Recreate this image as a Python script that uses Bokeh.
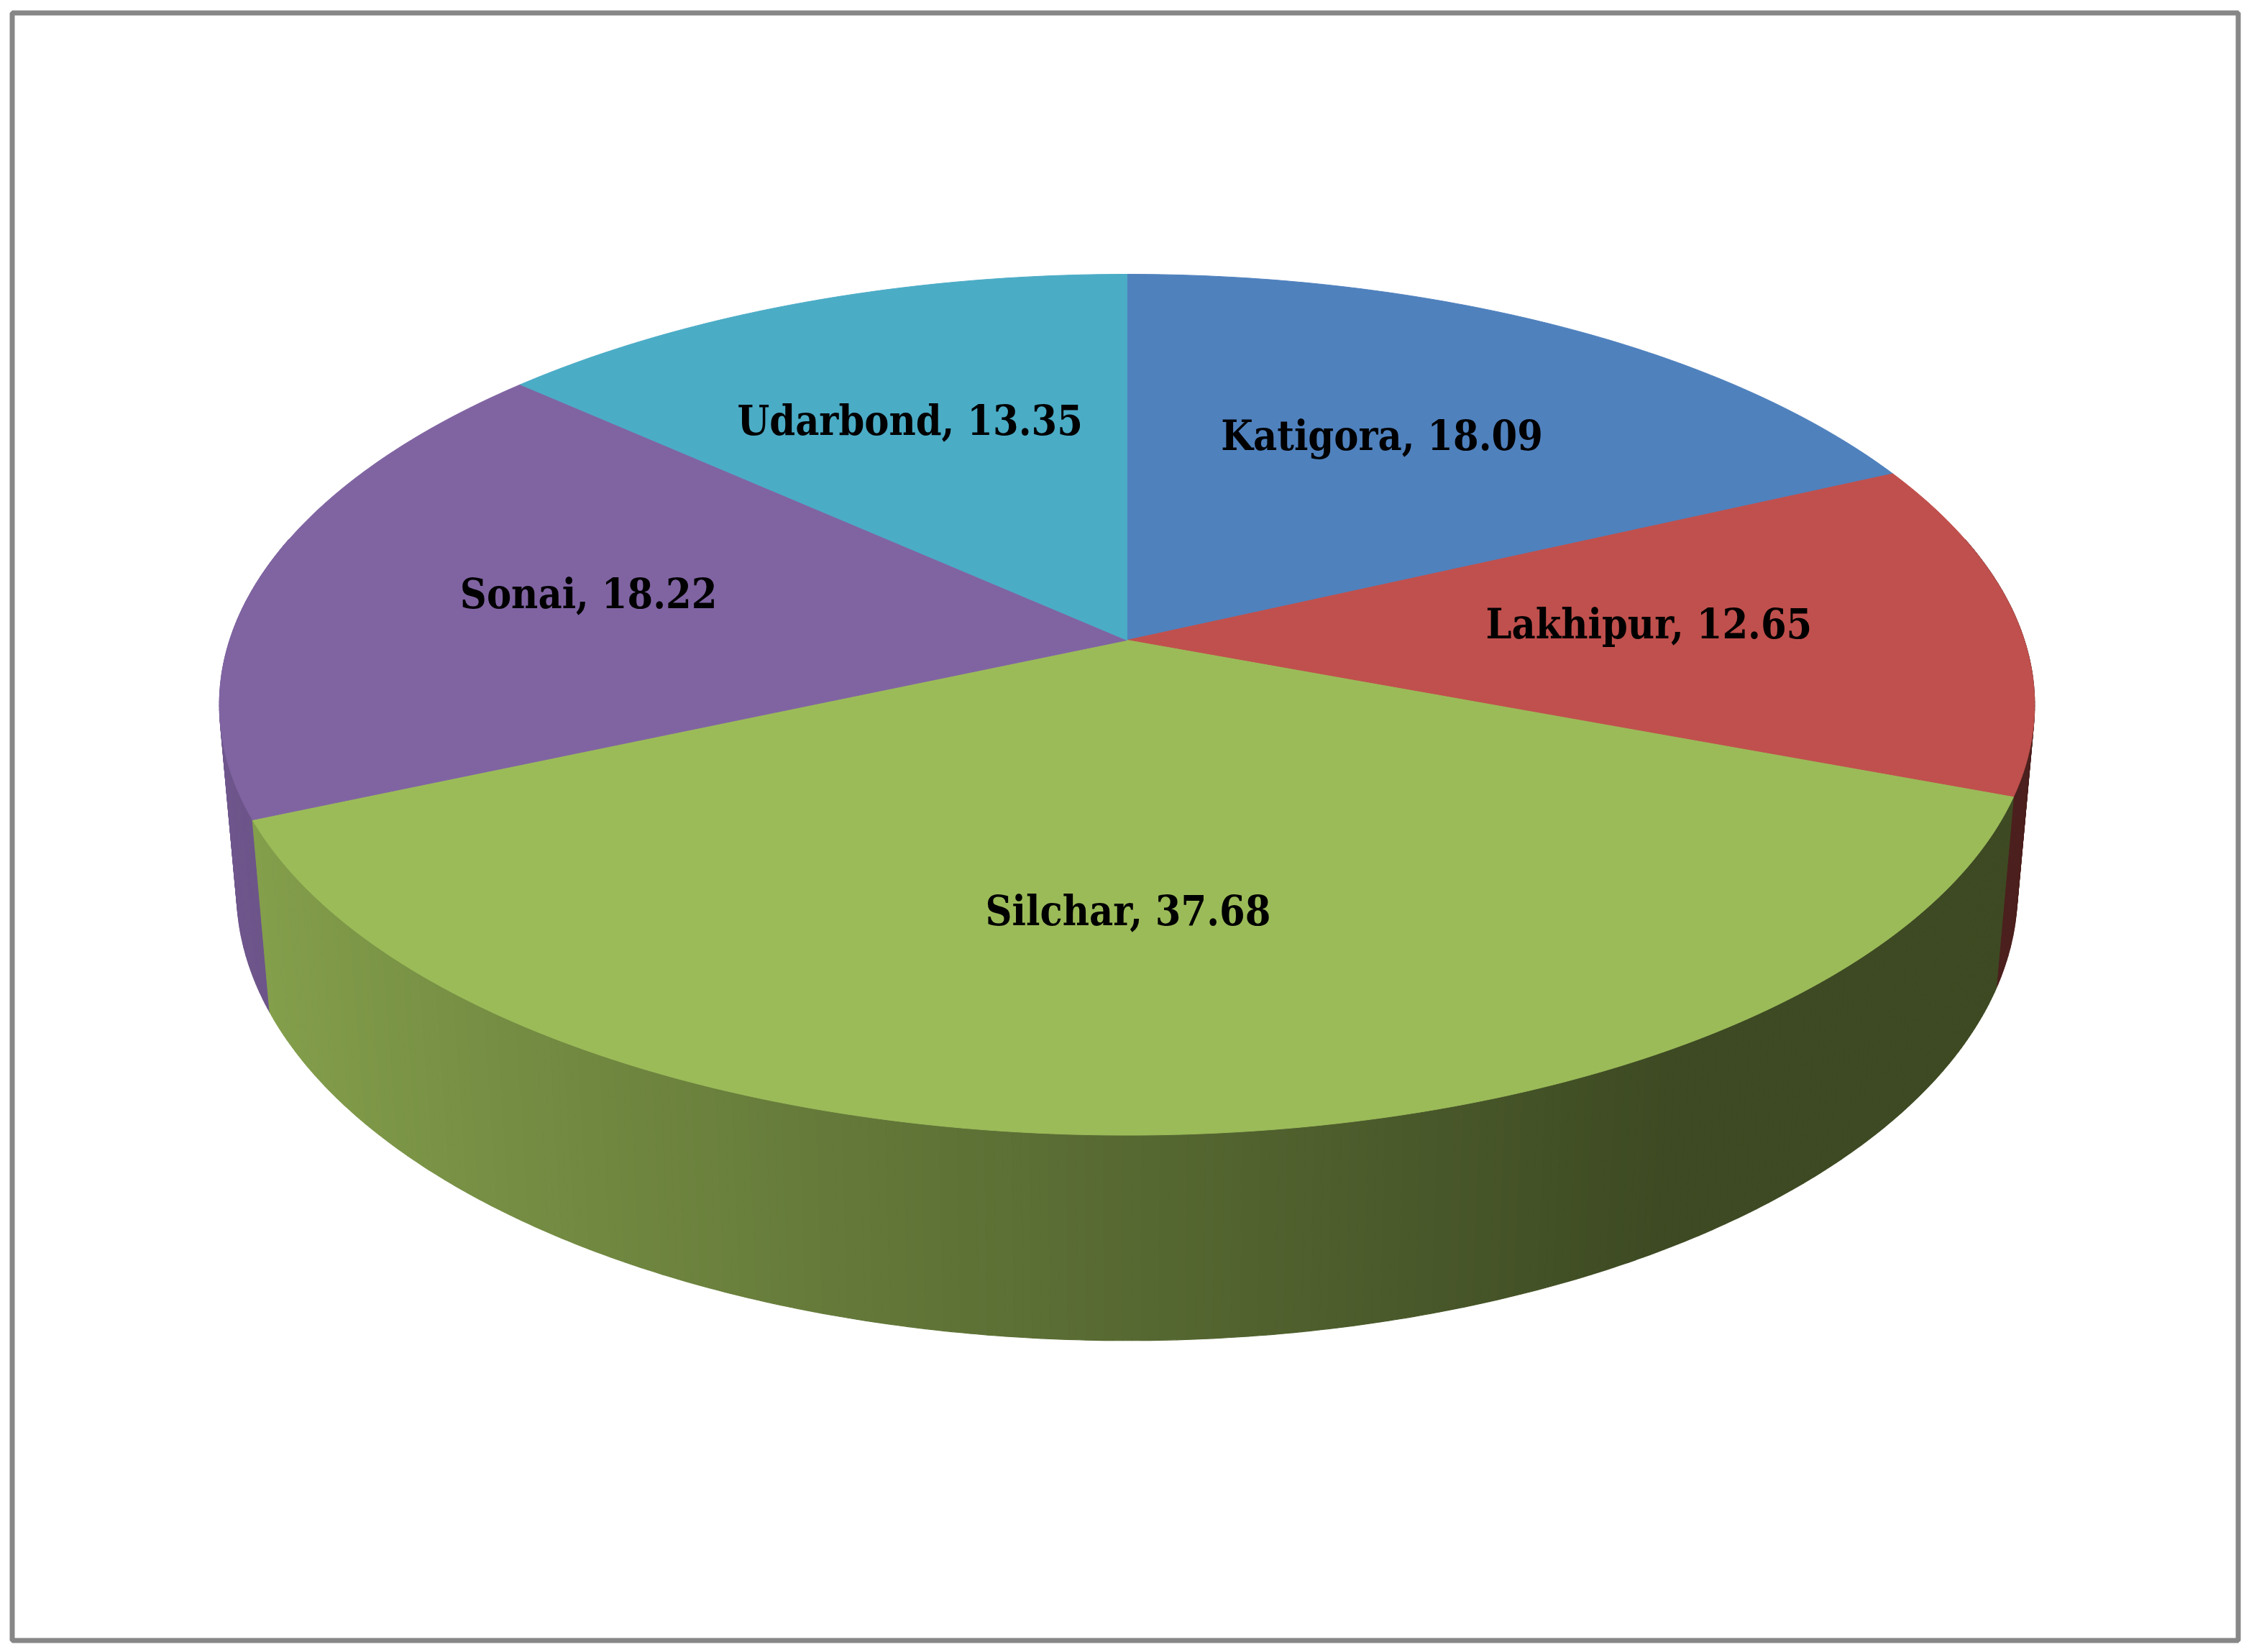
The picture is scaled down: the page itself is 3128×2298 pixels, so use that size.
import numpy as np
from bokeh.plotting import figure
from bokeh.models import Range1d, ColumnDataSource
from bokeh.embed import file_html
from bokeh.resources import INLINE
from bokeh.core.properties import value

# ---- data ----
districts = ["Katigora", "Lakhipur", "Silchar", "Sonai", "Udarbond"]
shares = [18.09, 12.65, 37.68, 18.22, 13.35]
top_colors = ["#4f81bd", "#c0504d", "#9bbb59", "#8064a2", "#4bacc6"]

# ---- canvas ----
W, H = 3120, 2290
p = figure(width=W, height=H, x_range=Range1d(0, W), y_range=Range1d(H, 0),
           output_backend="svg", toolbar_location=None, min_border=0)
p.axis.visible = False
p.grid.visible = False
p.outline_line_color = None
p.background_fill_color = "white"
p.border_fill_color = "white"

# ---- 3D projection of the pie ----
CX, CY, S = 1567, 890, 1248
SIN_T = 0.469
COS_T = float(np.sqrt(1 - SIN_T ** 2))
DIST = 5.89
DEPTH = 0.237


def proj(X, Z, Y):
    v = Z * SIN_T - Y * COS_T
    w = Z * COS_T + Y * SIN_T
    f = DIST / (DIST - w)
    return CX + S * X * f, CY + S * v * f


def hex_to_rgb(h):
    h = h.lstrip("#")
    return np.array([int(h[i:i + 2], 16) for i in (0, 2, 4)], dtype=float)


def shade(h, k):
    r, g, b = np.clip(hex_to_rgb(h) * k, 0, 255).astype(int)
    return "#%02x%02x%02x" % (r, g, b)


total = float(sum(shares))
bounds = np.concatenate([[0.0], np.cumsum(shares) / total * 2 * np.pi])

# side walls
strips = []
for i, col in enumerate(top_colors):
    a0, a1 = bounds[i], bounds[i + 1]
    n = max(2, int(np.degrees(a1 - a0) / 0.5))
    angs = np.linspace(a0, a1, n + 1)
    for k in range(n):
        pa, pb = angs[k], angs[k + 1]
        pm = 0.5 * (pa + pb)
        Zm = -np.cos(pm)
        if Zm < -0.25:
            continue
        Xa, Za = np.sin(pa), -np.cos(pa)
        Xb, Zb = np.sin(pb), -np.cos(pb)
        t1 = proj(Xa, Za, 0.0)
        t2 = proj(Xb, Zb, 0.0)
        b2 = proj(Xb, Zb, -DEPTH)
        b1 = proj(Xa, Za, -DEPTH)
        light = float(np.clip(0.565 - 0.315 * np.sin(pm), 0.4, 0.88))
        strips.append((Zm, [t1[0], t2[0], b2[0], b1[0]], [t1[1], t2[1], b2[1], b1[1]],
                       shade(col, light)))
strips.sort(key=lambda s: s[0])
side_src = ColumnDataSource(dict(xs=[s[1] for s in strips], ys=[s[2] for s in strips],
                                 c=[s[3] for s in strips]))
p.patches("xs", "ys", source=side_src, fill_color="c", line_color="c", line_width=1.2)

# top faces
txs, tys = [], []
cx0, cy0 = proj(0.0, 0.0, 0.0)
for i in range(len(shares)):
    a0, a1 = bounds[i], bounds[i + 1]
    angs = np.linspace(a0, a1, max(3, int(np.degrees(a1 - a0) * 2)))
    px, py = proj(np.sin(angs), -np.cos(angs), 0.0)
    txs.append([cx0] + list(px))
    tys.append([cy0] + list(py))
top_src = ColumnDataSource(dict(xs=txs, ys=tys, c=top_colors))
p.patches("xs", "ys", source=top_src, fill_color="c", line_color="c", line_width=1)

# labels
mids = 0.5 * (bounds[:-1] + bounds[1:])
lx, ly = proj(0.6 * np.sin(mids), -0.6 * np.cos(mids), 0.0)
labels = ["%s, %.2f" % (d, v) for d, v in zip(districts, shares)]
lab_src = ColumnDataSource(dict(x=lx - 20, y=ly - 10, t=labels))
p.text("x", "y", text="t", source=lab_src, text_font=value("DejaVu Serif Condensed"),
       text_font_style="bold", text_font_size="57px", text_color="black",
       text_align="center", text_baseline="middle")

# chart border
p.quad(left=[16.5], right=[3112.5], top=[17.5], bottom=[2281.5], fill_alpha=0,
       line_color="#878787", line_width=7)

open("out.html", "w").write(file_html(p, INLINE))
